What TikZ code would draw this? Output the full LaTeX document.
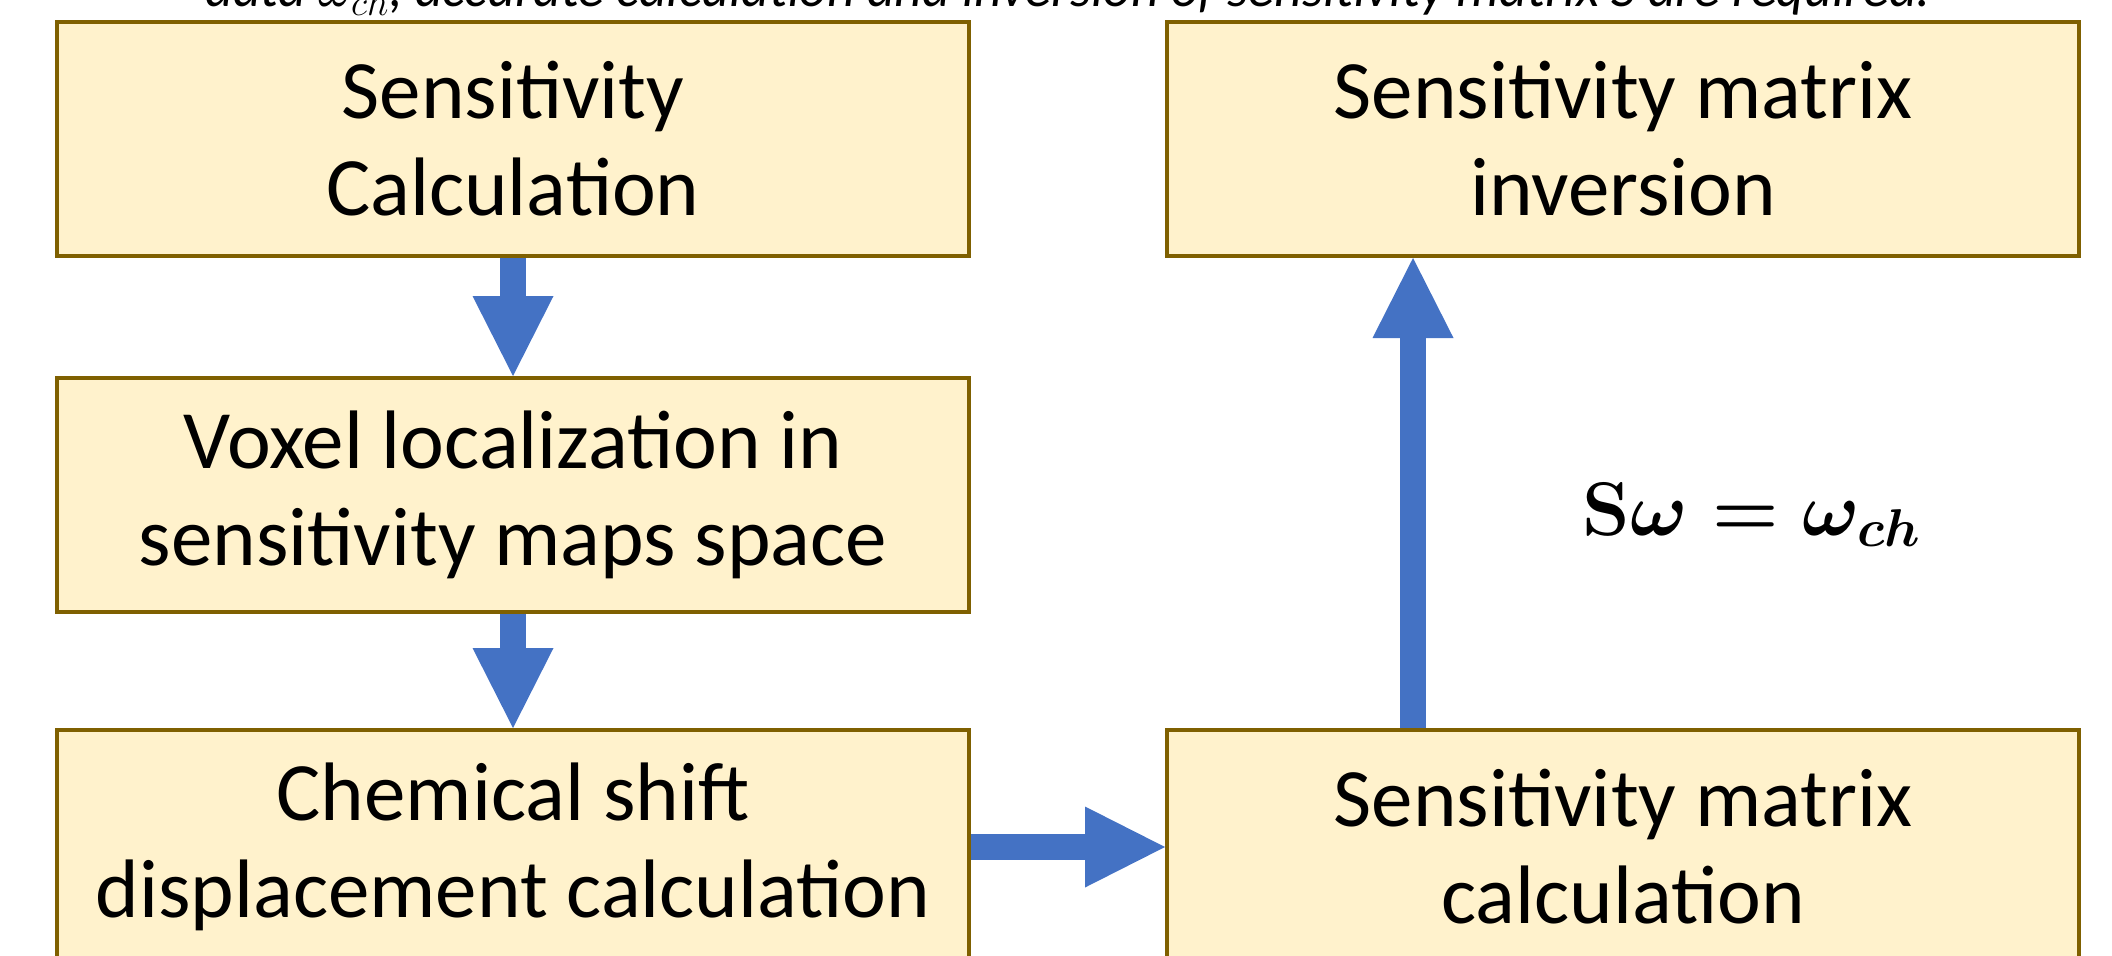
\RequirePackage{fix-cm}
\documentclass[tikz,border=0pt]{standalone}
\usepackage{fontspec}
\setmainfont{Carlito}
\usepackage{amsmath}
\usetikzlibrary{
  positioning,
  arrows.meta
}
\definecolor{boxline}{HTML}{7F6000}
\definecolor{boxfill}{HTML}{FFF2CC}
\definecolor{flowblue}{HTML}{4472C4}

\begin{document}
\begin{tikzpicture}[x=0.5pt,y=0.5pt]
  \tikzset{
    stepbox/.style={
      draw=boxline, fill=boxfill, line width=2pt,
      minimum width=456pt, minimum height=117pt,
      inner sep=0pt, align=center,
      font=\fontsize{41.5}{48.5}\selectfont
    },
    flow/.style={
      draw=flowblue, line width=13pt,
      -{Triangle[length=40pt,width=40.5pt,line width=0pt]}
    },
    eqtext/.style={font=\fontsize{38}{44}\selectfont},
  }
  \useasboundingbox (0,0) rectangle (2112,955);
  \clip (0,0) rectangle (2112,955);

  % caption line, cut at the top
  \node[anchor=base, font=\fontsize{27}{30}\selectfont\itshape] (caption) at (1068,948) {data $\omega_{ch}$, accurate calculation and inversion of sensitivity matrix S are required.};

  % left column
  \node[stepbox] (senscalc) at (513,816) {Sensitivity\\Calculation};
  \node[stepbox, below=59pt of senscalc] (voxel) {Voxel localization in\\sensitivity maps space};
  \node[stepbox, below=57pt of voxel] (chemshift) {Chemical shift\\displacement calculation};

  % right column
  \node[stepbox, right=97pt of senscalc] (matinv) {Sensitivity matrix\\inversion};
  \node[stepbox, right=97pt of chemshift] (matcalc) {Sensitivity matrix\\calculation};

  \node[eqtext] (sweq) at (1752,440) {$\boldsymbol{\mathbf{S}\omega = \omega_{ch}}$};

  \draw[flow] (senscalc) -- (voxel);
  \draw[flow] (voxel) -- (chemshift);
  \draw[flow] (chemshift) -- (matcalc);
  \draw[flow] ([xshift=124pt]matcalc.north west) -- ([xshift=124pt]matinv.south west);
\end{tikzpicture}
\end{document}
